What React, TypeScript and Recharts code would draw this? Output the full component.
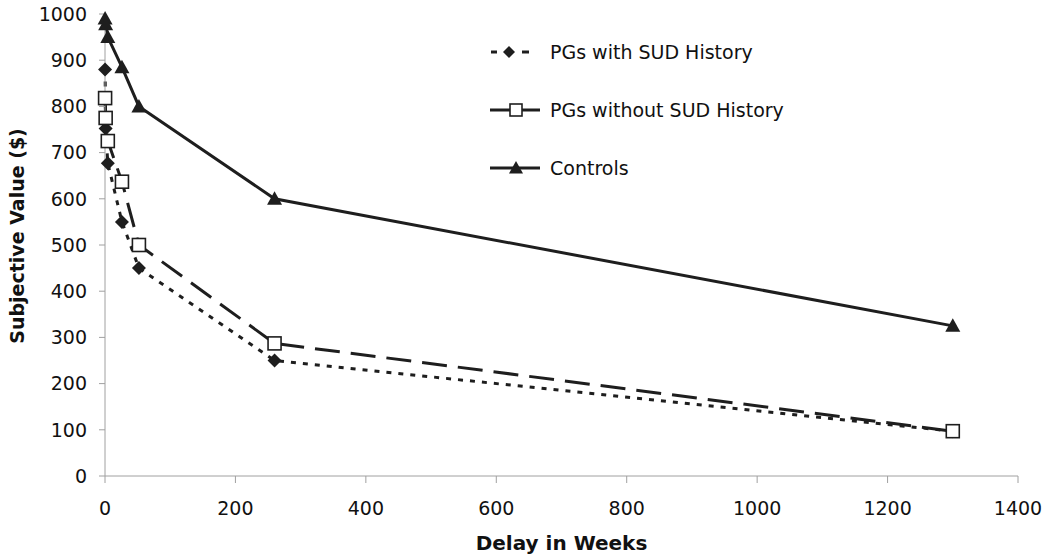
import React from 'react';
import { Legend, Line, LineChart, XAxis, YAxis } from 'recharts';

const delays = [0.14, 1, 4.3, 26, 52, 260, 1300];
const withSud = [880, 752, 677, 550, 450, 250, 97];
const withoutSud = [818, 775, 725, 637, 500, 287, 97];
const controls = [990, 978, 950, 885, 800, 600, 325];

const xTicks = [0, 200, 400, 600, 800, 1000, 1200, 1400];
const yTicks = [0, 100, 200, 300, 400, 500, 600, 700, 800, 900, 1000];

const data = delays.map((d, i) => ({
  delay: d,
  withSud: withSud[i],
  withoutSud: withoutSud[i],
  controls: controls[i],
}));

const INK = '#1e1e1e';
const FONT = '"DejaVu Sans", Verdana, sans-serif';

const Diamond = ({ cx, cy, s = 7 }) => (
  <polygon points={`${cx},${cy - s} ${cx + s},${cy} ${cx},${cy + s} ${cx - s},${cy}`} fill={INK} />
);
const Square = ({ cx, cy, s = 6.5 }) => (
  <rect x={cx - s} y={cy - s} width={s * 2} height={s * 2} fill="#fff" stroke={INK} strokeWidth={1.6} />
);
const Triangle = ({ cx, cy, s = 7.5 }) => (
  <polygon points={`${cx},${cy - s} ${cx + s},${cy + s * 0.8} ${cx - s},${cy + s * 0.8}`} fill={INK} />
);

const diamondDot = (p) => <Diamond key={p.index} cx={p.cx} cy={p.cy} />;
const squareDot = (p) => <Square key={p.index} cx={p.cx} cy={p.cy} />;
const triangleDot = (p) => <Triangle key={p.index} cx={p.cx} cy={p.cy} />;

const legendRows = [
  { name: 'PGs with SUD History', kind: 'diamond' },
  { name: 'PGs without SUD History', kind: 'square' },
  { name: 'Controls', kind: 'triangle' },
];

const LegendIcon = ({ kind }) => (
  <svg width={52} height={20} style={{ marginRight: 8 }}>
    {kind === 'diamond' ? (
      <>
        <line x1={1} y1={10} x2={7} y2={10} stroke={INK} strokeWidth={3} />
        <line x1={32} y1={10} x2={39} y2={10} stroke={INK} strokeWidth={3} />
        <Diamond cx={19} cy={10} s={6} />
      </>
    ) : (
      <>
        <line x1={0} y1={10} x2={50} y2={10} stroke={INK} strokeWidth={3} />
        {kind === 'square' ? <Square cx={26} cy={10} s={6} /> : <Triangle cx={26} cy={10} s={7} />}
      </>
    )}
  </svg>
);

const CustomLegend = () => (
  <div style={{ fontFamily: FONT, fontSize: 19, color: '#111', textAlign: 'left' }}>
    {legendRows.map((r) => (
      <div key={r.name} style={{ height: 58, display: 'flex', alignItems: 'center' }}>
        <LegendIcon kind={r.kind} />
        <span>{r.name}</span>
      </div>
    ))}
  </div>
);

const YTitle = () => (
  <text
    x={17}
    y={236}
    transform="rotate(-90 17 236)"
    textAnchor="middle"
    dominantBaseline="central"
    fontFamily={FONT}
    fontWeight="bold"
    fontSize={19}
    fill="#111"
  >
    Subjective Value ($)
  </text>
);

const App = () => {
  return (
    <div style={{ position: 'absolute', left: 0, top: 0, background: '#fff' }}>
      <LineChart width={1050} height={560} data={data} margin={{ top: 14, right: 32, left: 0, bottom: 0 }}>
        <XAxis
          dataKey="delay"
          type="number"
          domain={[0, 1400]}
          ticks={xTicks}
          height={84}
          stroke="#a0a0a0"
          tickSize={7}
          tickMargin={19}
          tick={{ fill: '#111', fontSize: 19, fontFamily: FONT }}
          label={{
            value: 'Delay in Weeks',
            position: 'insideBottom',
            offset: 10,
            fill: '#111',
            fontSize: 20,
            fontWeight: 'bold',
            fontFamily: FONT,
          }}
        />
        <YAxis
          type="number"
          domain={[0, 1000]}
          ticks={yTicks}
          width={105}
          stroke="#a0a0a0"
          tickSize={6}
          tickMargin={12}
          tick={{ fill: '#111', fontSize: 19, fontFamily: FONT }}
          label={<YTitle />}
        />
        <Legend
          content={<CustomLegend />}
          layout="horizontal"
          verticalAlign="middle"
          align="center"
          wrapperStyle={{ left: 490, top: 23, width: 360 }}
        />
        <Line
          dataKey="withSud"
          name="PGs with SUD History"
          type="linear"
          stroke={INK}
          strokeWidth={3}
          strokeDasharray="5 7"
          dot={diamondDot}
          isAnimationActive={false}
        />
        <Line
          dataKey="withoutSud"
          name="PGs without SUD History"
          type="linear"
          stroke={INK}
          strokeWidth={3}
          strokeDasharray="25 11"
          dot={squareDot}
          isAnimationActive={false}
        />
        <Line
          dataKey="controls"
          name="Controls"
          type="linear"
          stroke={INK}
          strokeWidth={3}
          dot={triangleDot}
          isAnimationActive={false}
        />
      </LineChart>
    </div>
  );
};

export default App;
